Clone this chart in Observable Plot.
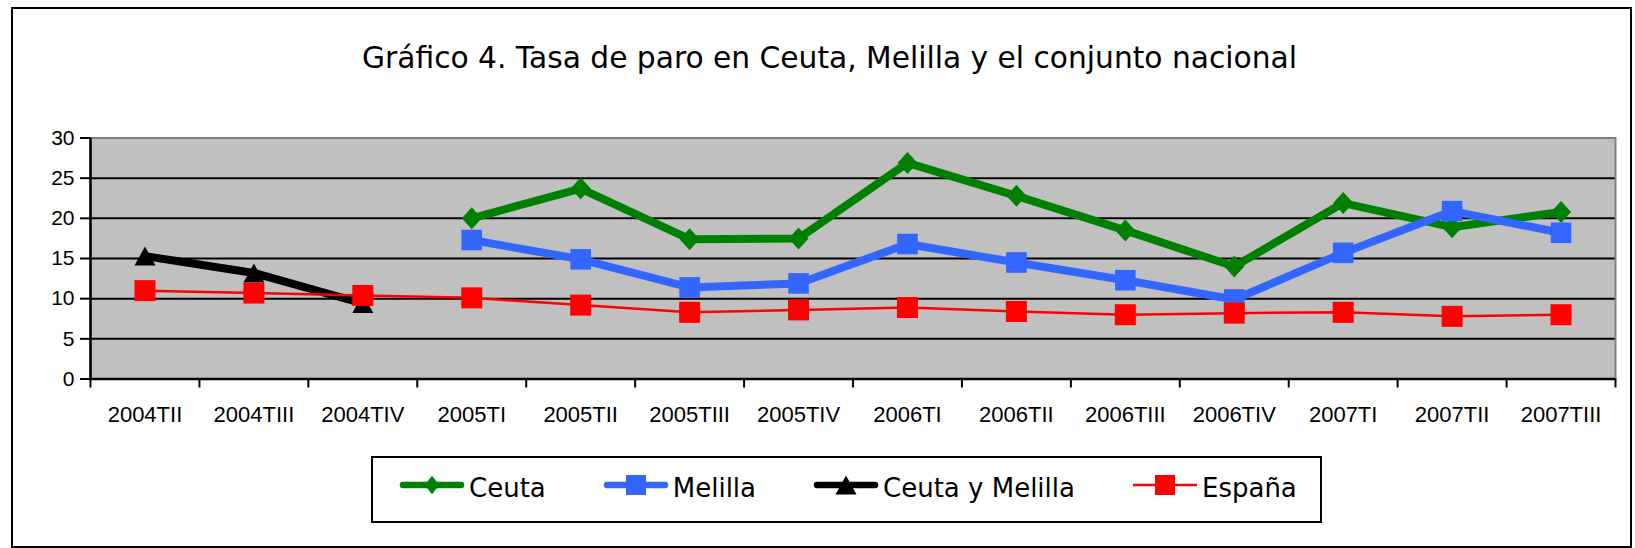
<!DOCTYPE html>
<html><head><meta charset="utf-8">
<script src="https://cdn.jsdelivr.net/npm/d3@7"></script>
<script src="https://cdn.jsdelivr.net/npm/@observablehq/plot@0.6"></script>
<style>
body{margin:0;background:#fff;width:1635px;height:548px;position:relative;overflow:hidden;}
#frame{position:absolute;left:11px;top:7px;width:1621px;height:541px;border:2.5px solid #000;box-sizing:border-box;}
#title{position:absolute;left:829.5px;top:43px;transform:translateX(-50%);white-space:nowrap;font-family:"DejaVu Sans";font-size:29.7px;line-height:29px;color:#000;}
#chart{position:absolute;left:0;top:100px;}
#legend{position:absolute;left:371px;top:456px;width:951px;height:67px;border:2.5px solid #000;box-sizing:border-box;display:flex;align-items:center;padding-left:27px;gap:58px;font-family:"DejaVu Sans";font-size:26px;background:#fff;}
.item{display:flex;align-items:center;}
.item svg{position:relative;top:-5px;}
.item span{margin-left:5px;line-height:26px;position:relative;top:-2px;white-space:nowrap;}
</style>
</head><body>
<div id="frame"></div>
<div id="title"></div>
<div id="chart"></div>
<div id="legend"></div>
<script>
const title = "Gráfico 4. Tasa de paro en Ceuta, Melilla y el conjunto nacional";
const categories = ["2004TII","2004TIII","2004TIV","2005TI","2005TII","2005TIII","2005TIV","2006TI","2006TII","2006TIII","2006TIV","2007TI","2007TII","2007TIII"];
const seriesNames = ["Ceuta","Melilla","Ceuta y Melilla","España"];
const ceuta = [null,null,null,20.0,23.7,17.4,17.5,26.9,22.8,18.5,14.0,21.9,18.9,20.8];
const melilla = [null,null,null,17.3,14.9,11.4,11.9,16.8,14.5,12.3,9.9,15.7,20.9,18.2];
const ceutaMelilla = [15.3,13.2,9.4,null,null,null,null,null,null,null,null,null,null,null];
const espana = [11.0,10.7,10.4,10.1,9.2,8.3,8.6,8.9,8.4,8.0,8.2,8.3,7.8,8.0];
const yTicks = [0,5,10,15,20,25,30];
const gridTicks = [5,10,15,20,25];

// custom symbols (size -> r)
const diamond = {draw(ctx, size){const k=Math.sqrt(size/Math.PI); ctx.moveTo(0,-1.1*k); ctx.lineTo(k,0); ctx.lineTo(0,1.1*k); ctx.lineTo(-k,0); ctx.closePath();}};
const square = {draw(ctx, size){const k=Math.sqrt(size/Math.PI); ctx.rect(-k,-k,2*k,2*k);}};
const triangle = {draw(ctx, size){const k=Math.sqrt(size/Math.PI); ctx.moveTo(0,-0.95*k); ctx.lineTo(1.05*k,0.95*k); ctx.lineTo(-1.05*k,0.95*k); ctx.closePath();}};

const series = [
  {name: seriesNames[0], values: ceuta, color: "#008000", width: 8, symbol: diamond, r: 10},
  {name: seriesNames[1], values: melilla, color: "#3366FF", width: 8, symbol: square, r: 10.3},
  {name: seriesNames[2], values: ceutaMelilla, color: "#000000", width: 8, symbol: triangle, r: 10},
  {name: seriesNames[3], values: espana, color: "#FF0000", width: 2.5, symbol: square, r: 10.5}
];

document.getElementById("title").textContent = title;

const marks = [
  Plot.frame({fill: "#c0c0c0"}),
  Plot.ruleY(gridTicks, {stroke: "#000", strokeWidth: 2}),
  Plot.frame({stroke: "#808080", strokeWidth: 2})
];
for (const s of series) {
  const rows = categories.map((c, i) => ({x: i + 0.5, y: s.values[i] == null ? NaN : s.values[i]}));
  marks.push(Plot.line(rows, {x: "x", y: "y", stroke: s.color, strokeWidth: s.width, strokeLinejoin: "round", strokeLinecap: "round"}));
  marks.push(Plot.dot(rows.filter(d => !isNaN(d.y)), {x: "x", y: "y", symbol: () => s.symbol, r: s.r, fill: s.color, stroke: "none"}));
}
marks.push(
  Plot.ruleX([0], {stroke: "#000", strokeWidth: 2.5}),
  Plot.ruleY([0], {stroke: "#000", strokeWidth: 2.5}),
  Plot.axisY(yTicks, {label: null, tickSize: 10, tickPadding: 6, fontSize: 21, strokeWidth: 2, stroke: "#000", fill: "#000", tickFormat: d => String(d)}),
  Plot.axisX(d3.range(categories.length + 1), {label: null, tickSize: 9, strokeWidth: 2, stroke: "#000", tickFormat: () => ""}),
  Plot.axisX(categories.map((c, i) => i + 0.5), {label: null, tickSize: 0, tickPadding: 27, fontSize: 22, fill: "#000", tickFormat: d => categories[Math.floor(d)]})
);

const chart = Plot.plot({
  width: 1635,
  height: 340,
  marginLeft: 90,
  marginRight: 20,
  marginTop: 37.5,
  marginBottom: 61.5,
  x: {type: "linear", domain: [0, categories.length], label: null},
  y: {domain: [0, 30], label: null},
  symbol: {type: "identity"},
  style: {fontFamily: "'Liberation Sans', Arial, sans-serif", background: "transparent", overflow: "visible"},
  marks
});
document.getElementById("chart").appendChild(chart);

// legend
const legend = document.getElementById("legend");
for (const s of series) {
  const item = document.createElement("div");
  item.className = "item";
  const w = 64, h = 26, cy = 13;
  const svg = d3.create("svg").attr("width", w).attr("height", h).style("overflow", "visible");
  svg.append("line").attr("x1", s.width > 3 ? 3 : 0).attr("x2", s.width > 3 ? w - 3 : w).attr("y1", cy).attr("y2", cy)
    .attr("stroke", s.color).attr("stroke-width", s.width > 3 ? 6.5 : 2.5).attr("stroke-linecap", s.width > 3 ? "round" : "butt");
  const p = d3.path();
  const lr = s.symbol === diamond ? 8.5 : 10;
  s.symbol.draw(p, Math.PI * lr * lr);
  const sx = s.symbol === diamond ? 0.85 : 1;
  svg.append("path").attr("d", p.toString()).attr("fill", s.color)
    .attr("transform", `translate(${w/2},${cy}) scale(${sx},1)`);
  item.appendChild(svg.node());
  const span = document.createElement("span");
  span.textContent = s.name;
  item.appendChild(span);
  legend.appendChild(item);
}
</script>
</body></html>
